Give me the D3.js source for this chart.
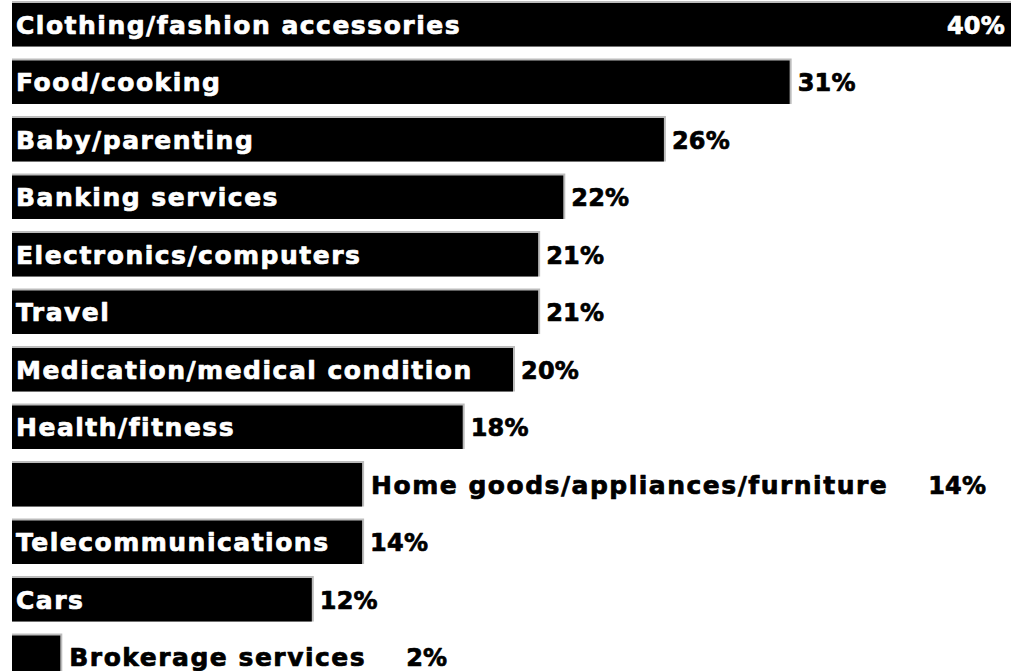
<!DOCTYPE html>
<html>
<head>
<meta charset="utf-8">
<script src="https://cdn.jsdelivr.net/npm/d3@7"></script>
<style>
  html, body { margin: 0; padding: 0; background: #fff; }
  svg { display: block; }
  text { font-family: "DejaVu Sans", sans-serif; font-weight: bold; stroke-linejoin: round; }
</style>
</head>
<body>
<script>
// Share of respondents by category (percent)
const categories = [
  "Clothing/fashion accessories",
  "Food/cooking",
  "Baby/parenting",
  "Banking services",
  "Electronics/computers",
  "Travel",
  "Medication/medical condition",
  "Health/fitness",
  "Home goods/appliances/furniture",
  "Telecommunications",
  "Cars",
  "Brokerage services"
];
const values = [40, 31, 26, 22, 21, 21, 20, 18, 14, 14, 12, 2];

const W = 1011, H = 671;
const svg = d3.select("body").append("svg").attr("width", W).attr("height", H);

const x = d3.scaleLinear().domain([0, 40]).range([12, 1018]);
const y = d3.scaleBand().domain(categories).range([1, 679]).paddingInner(0.209).paddingOuter(0);

const rows = svg.selectAll("g.row")
  .data(categories.map((c, i) => ({ c, v: values[i] })))
  .join("g").attr("class", "row")
  .attr("transform", d => `translate(0,${y(d.c)})`);

const bh = y.bandwidth();

// bevel edge (top and right) then the solid bar
rows.append("rect")
  .attr("x", x(0)).attr("y", 0)
  .attr("width", d => x(d.v) - x(0)).attr("height", bh)
  .attr("fill", "#bcbcbc");
rows.append("rect")
  .attr("x", x(0)).attr("y", 2)
  .attr("width", d => x(d.v) - x(0) - 2).attr("height", bh - 2)
  .attr("fill", "#000");

const base = bh / 2 + 10;

// heavy type: bold face thickened with a thin matching stroke
function heavy(sel, color) {
  return sel.attr("fill", color).attr("stroke", color).attr("stroke-width", 0.7);
}

rows.each(function (d) {
  const g = d3.select(this);
  const barEnd = x(d.v);
  const label = g.append("text")
    .attr("y", base)
    .attr("font-size", 25)
    .attr("letter-spacing", 1.5)
    .text(d.c);
  const lw = label.node().getComputedTextLength();
  const inside = lw + 14 < barEnd - x(0);
  let valueX;
  if (inside) {
    label.attr("x", x(0) + 4);
    heavy(label, "#fff");
    valueX = barEnd + 6;
  } else {
    label.attr("x", barEnd + 7);
    heavy(label, "#000");
    valueX = barEnd + 7 + lw + 40;
  }
  const val = g.append("text")
    .attr("y", base)
    .attr("font-size", 24)
    .attr("letter-spacing", 0.2)
    .text(d.v + "%");
  const vw = val.node().getComputedTextLength();
  if (valueX + vw > W) {
    val.attr("x", W - 6).attr("text-anchor", "end");
    heavy(val, "#fff");
  } else {
    val.attr("x", valueX);
    heavy(val, "#000");
  }
});
</script>
</body>
</html>
